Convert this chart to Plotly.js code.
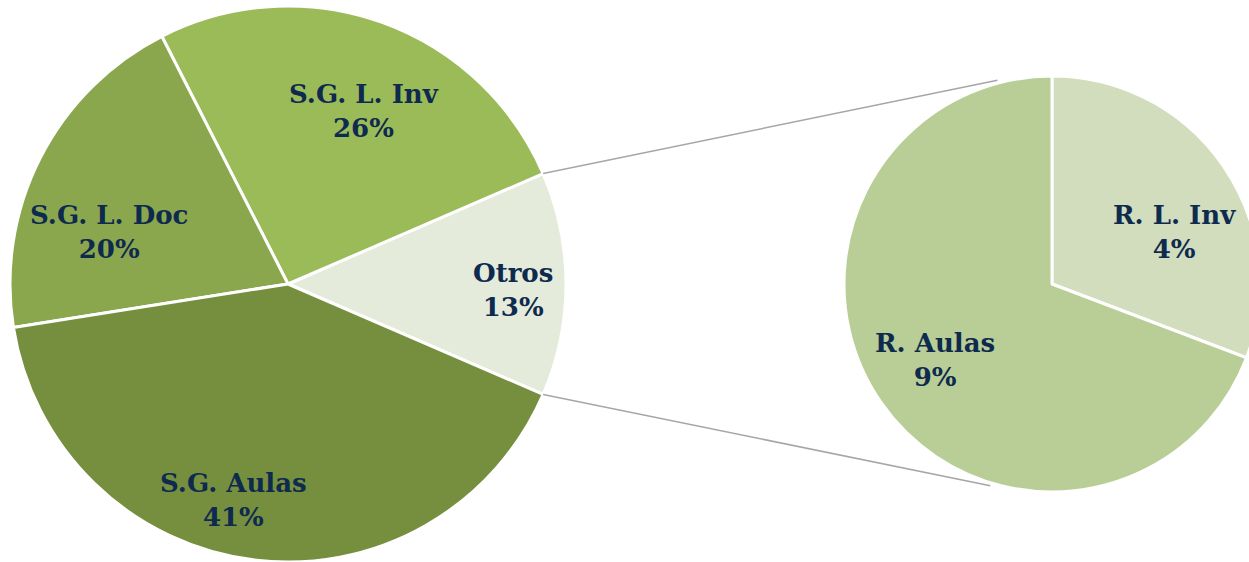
<!DOCTYPE html>
<html>
<head>
<meta charset="utf-8">
<script src="https://cdn.plot.ly/plotly-3.0.1.min.js"></script>
<style>
html,body{margin:0;padding:0;overflow:hidden;background:#fff;width:1249px;height:562px;}
#chart{width:1270px;height:562px;}
</style>
</head>
<body>
<div id="chart"></div>
<script>
// Main pie
var mainLabels = ["Otros", "S.G. L. Inv", "S.G. L. Doc", "S.G. Aulas"];
var mainValues = [13, 26, 20, 41];
var mainColors = ["#E4EBDA", "#9BBB59", "#8BA74E", "#758F3F"];
// Secondary pie (breakdown of "Otros")
var subLabels = ["R. L. Inv", "R. Aulas"];
var subValues = [4, 9];
var subColors = ["#D1DDBC", "#B9CE96"];

var W = 1270, H = 562;
var textFont = {family: "DejaVu Serif", size: 26, color: "#0E2A4E", weight: "bold"};

// pixel geometry of the two pies
var c1 = {x: 288, y: 284, r: 278};
var c2 = {x: 1052, y: 284, r: 208};

function dom(c) {
  return {
    x: [(c.x - c.r) / W, (c.x + c.r) / W],
    y: [(H - c.y - c.r) / H, (H - c.y + c.r) / H]
  };
}
function sum(a){ return a.reduce(function(s, v){ return s + v; }, 0); }

var total = sum(mainValues);
var otrosHalf = 0.5 * 360 * mainValues[0] / total; // degrees

var traceMain = {
  type: "pie",
  labels: mainLabels,
  values: mainValues,
  sort: false,
  direction: "counterclockwise",
  rotation: 90 - otrosHalf,
  marker: {colors: mainColors, line: {color: "#ffffff", width: 3}},
  textinfo: "none",
  hoverinfo: "label+value",
  showlegend: false,
  domain: dom(c1)
};
var traceSub = {
  type: "pie",
  labels: subLabels,
  values: subValues,
  sort: false,
  direction: "clockwise",
  rotation: 0,
  marker: {colors: subColors, line: {color: "#ffffff", width: 3}},
  textinfo: "none",
  hoverinfo: "label+value",
  showlegend: false,
  domain: dom(c2)
};

function px2paper(x, y){ return [x / W, 1 - y / H]; }

// label placement (polar nudges relative to each slice's mid-angle), like Excel's best fit
var mainNudge = [[-1.5, 0.81], [-4, 0.68], [10.7, 0.67], [-7, 0.80]];
var subNudge = [[-11.7, 0.64], [-1.6, 0.67]];

var annotations = [];
function addLabels(labels, values, c, startDeg, dirSign, nudge) {
  var tot = sum(values), acc = 0;
  for (var i = 0; i < values.length; i++) {
    var span = 360 * values[i] / tot;
    var mid = startDeg + dirSign * (acc + span / 2) + nudge[i][0];
    acc += span;
    var rad = mid * Math.PI / 180, rr = c.r * nudge[i][1];
    var p = px2paper(c.x + rr * Math.cos(rad), c.y - rr * Math.sin(rad));
    annotations.push({
      xref: "paper", yref: "paper", x: p[0], y: p[1],
      xanchor: "center", yanchor: "middle",
      text: labels[i] + "<br>" + values[i] + "%",
      showarrow: false, font: textFont, align: "center"
    });
  }
}
addLabels(mainLabels, mainValues, c1, -otrosHalf, 1, mainNudge);
addLabels(subLabels, subValues, c2, 90, -1, subNudge);

// connector lines from edges of "Otros" slice to secondary pie
var a1 = otrosHalf * Math.PI / 180;
var aTop = 105 * Math.PI / 180, aBot = -107 * Math.PI / 180;
var p1 = px2paper(c1.x + c1.r * Math.cos(a1), c1.y - c1.r * Math.sin(a1));
var p2 = px2paper(c2.x + (c2.r + 3) * Math.cos(aTop), c2.y - (c2.r + 3) * Math.sin(aTop));
var p3 = px2paper(c1.x + c1.r * Math.cos(-a1), c1.y - c1.r * Math.sin(-a1));
var p4 = px2paper(c2.x + (c2.r + 3) * Math.cos(aBot), c2.y - (c2.r + 3) * Math.sin(aBot));

var layout = {
  width: W, height: H,
  margin: {l: 0, r: 0, t: 0, b: 0},
  paper_bgcolor: "#ffffff",
  showlegend: false,
  annotations: annotations,
  shapes: [
    {type: "line", xref: "paper", yref: "paper", x0: p1[0], y0: p1[1], x1: p2[0], y1: p2[1], line: {color: "#A6A6A6", width: 1.5}},
    {type: "line", xref: "paper", yref: "paper", x0: p3[0], y0: p3[1], x1: p4[0], y1: p4[1], line: {color: "#A6A6A6", width: 1.5}}
  ]
};

Plotly.newPlot("chart", [traceMain, traceSub], layout, {displayModeBar: false, staticPlot: true});
</script>
</body>
</html>
